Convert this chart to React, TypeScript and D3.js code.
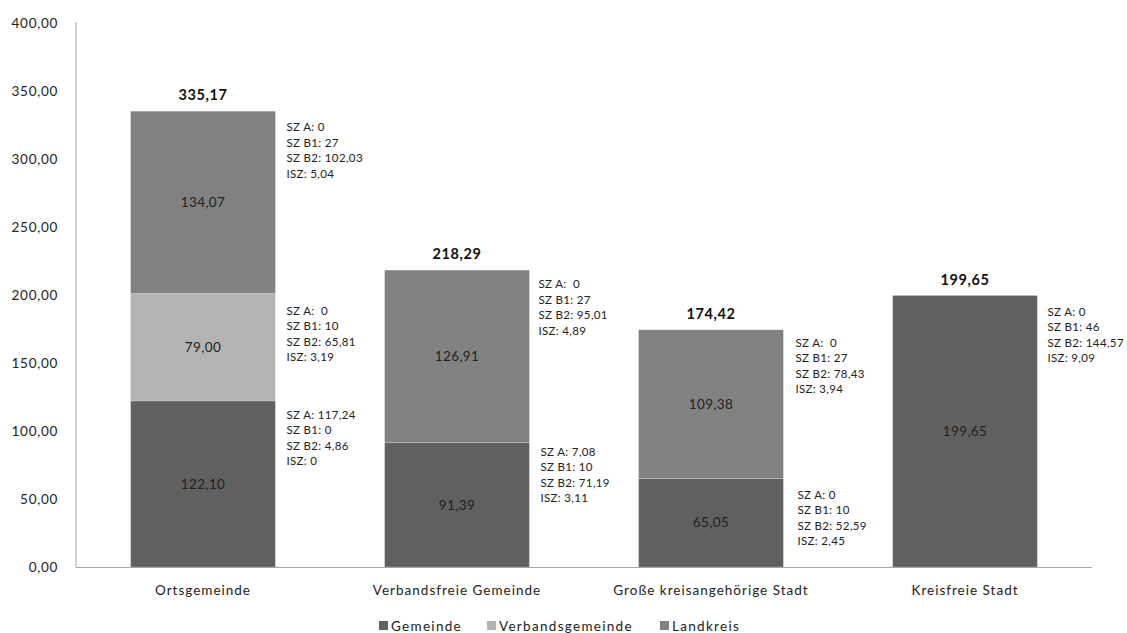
import React from "react";
import * as d3 from "d3";

const categories = ["Ortsgemeinde", "Verbandsfreie Gemeinde", "Große kreisangehörige Stadt", "Kreisfreie Stadt"];
const seriesNames = ["Gemeinde", "Verbandsgemeinde", "Landkreis"];
const gemeinde = [122.10, 91.39, 65.05, 199.65];
const verbandsgemeinde = [79.00, 0, 0, 0];
const landkreis = [134.07, 126.91, 109.38, 0];
const totals = [335.17, 218.29, 174.42, 199.65];
const yTicks = [0, 50, 100, 150, 200, 250, 300, 350, 400];

// annotations: [categoryIndex, seriesIndex, lines]
const annotations: [number, number, string[]][] = [
  [0, 2, ["SZ A: 0", "SZ B1: 27", "SZ B2: 102,03", "ISZ: 5,04"]],
  [0, 1, ["SZ A:  0", "SZ B1: 10", "SZ B2: 65,81", "ISZ: 3,19"]],
  [0, 0, ["SZ A: 117,24", "SZ B1: 0", "SZ B2: 4,86", "ISZ: 0"]],
  [1, 2, ["SZ A:  0", "SZ B1: 27", "SZ B2: 95,01", "ISZ: 4,89"]],
  [1, 0, ["SZ A: 7,08", "SZ B1: 10", "SZ B2: 71,19", "ISZ: 3,11"]],
  [2, 2, ["SZ A:  0", "SZ B1: 27", "SZ B2: 78,43", "ISZ: 3,94"]],
  [2, 0, ["SZ A: 0", "SZ B1: 10", "SZ B2: 52,59", "ISZ: 2,45"]],
  [3, 0, ["SZ A: 0", "SZ B1: 46", "SZ B2: 144,57", "ISZ: 9,09"]],
];
// layout nudges for annotation blocks (pixels), [dx, dy]
const annotationNudge = [[0, 0], [0, 1], [0, -2], [-2, -2], [0, -7], [1, -3], [3, 0], [-1, 0]];

const W = 1127, H = 633;
const colors = ["#606060", "#b3b3b3", "#818181"];
const font = "Lato, 'Open Sans', sans-serif";
const fmt = (v: number) => d3.format(".2f")(v).replace(".", ",");

export default function App() {
  const x = d3.scaleBand<string>().domain(categories).range([76, 1092]).paddingInner(0.43).paddingOuter(0.215);
  const y = d3.scaleLinear().domain([0, 400]).range([567, 23]);

  const rows = categories.map((c, i) => ({ cat: c, Gemeinde: gemeinde[i], Verbandsgemeinde: verbandsgemeinde[i], Landkreis: landkreis[i] }));
  const stack = d3.stack<any>().keys(seriesNames)(rows);

  return (
    <svg width={W} height={H} style={{ position: "absolute", left: 0, top: 0, background: "#fff" }} fontFamily={font}>
      {/* y axis labels */}
      {yTicks.map((t) => (
        <text key={t} x={58} y={y(t)} dy="0.35em" textAnchor="end" fontSize={13.5} letterSpacing={0.7} fill="#222">{fmt(t)}</text>
      ))}
      {/* bars */}
      {stack.map((s, si) => (
        <g key={s.key}>
          {s.map((d, ci) => {
            const h = y(d[0]) - y(d[1]);
            if (h <= 0) return null;
            return (
              <g key={ci}>
                <rect x={x(categories[ci])!} y={y(d[1])} width={x.bandwidth()} height={h} fill={colors[si]} stroke="#ffffff" strokeOpacity={0.35} strokeWidth={0.6} />
                <text x={x(categories[ci])! + x.bandwidth() / 2} y={(y(d[0]) + y(d[1])) / 2} dy="0.35em" textAnchor="middle" fontSize={13.5} letterSpacing={0.4} fill="#222">{fmt(d[1] - d[0])}</text>
              </g>
            );
          })}
        </g>
      ))}
      {/* totals */}
      {totals.map((t, i) => (
        <text key={i} x={x(categories[i])! + x.bandwidth() / 2} y={y(t) - 16} dy="0.35em" textAnchor="middle" fontSize={14.5} fontWeight="bold" letterSpacing={0.6} fill="#111">{fmt(t)}</text>
      ))}
      {/* annotations */}
      {annotations.map(([ci, si, lines], k) => {
        const seg = stack[si][ci];
        const x0 = x(categories[ci])! + x.bandwidth() + 11 + annotationNudge[k][0];
        const y0 = y(seg[1]) + 16 + annotationNudge[k][1];
        return (
          <text key={k} fontSize={11.5} letterSpacing={0.35} fill="#222">
            {lines.map((l, li) => (
              <tspan key={li} x={x0} y={y0 + li * 15.5} dy="0.35em" style={{ whiteSpace: "pre" }}>{l}</tspan>
            ))}
          </text>
        );
      })}
      {/* axes */}
      <line x1={76} x2={76} y1={22} y2={567} stroke="#a6a6a6" strokeWidth={1} />
      <line x1={76} x2={1092} y1={567.5} y2={567.5} stroke="#a6a6a6" strokeWidth={1} />
      {/* category labels */}
      {categories.map((c) => (
        <text key={c} x={x(c)! + x.bandwidth() / 2} y={590} dy="0.35em" textAnchor="middle" fontSize={13.5} letterSpacing={1.0} fill="#222">{c}</text>
      ))}
      {/* legend */}
      {seriesNames.map((n, i) => {
        const lx = [379, 487, 660][i];
        return (
          <g key={n}>
            <rect x={lx} y={621} width={9} height={9} fill={colors[i]} />
            <text x={lx + 12} y={626} dy="0.35em" fontSize={13.5} letterSpacing={1.3} fill="#222">{n}</text>
          </g>
        );
      })}
    </svg>
  );
}
